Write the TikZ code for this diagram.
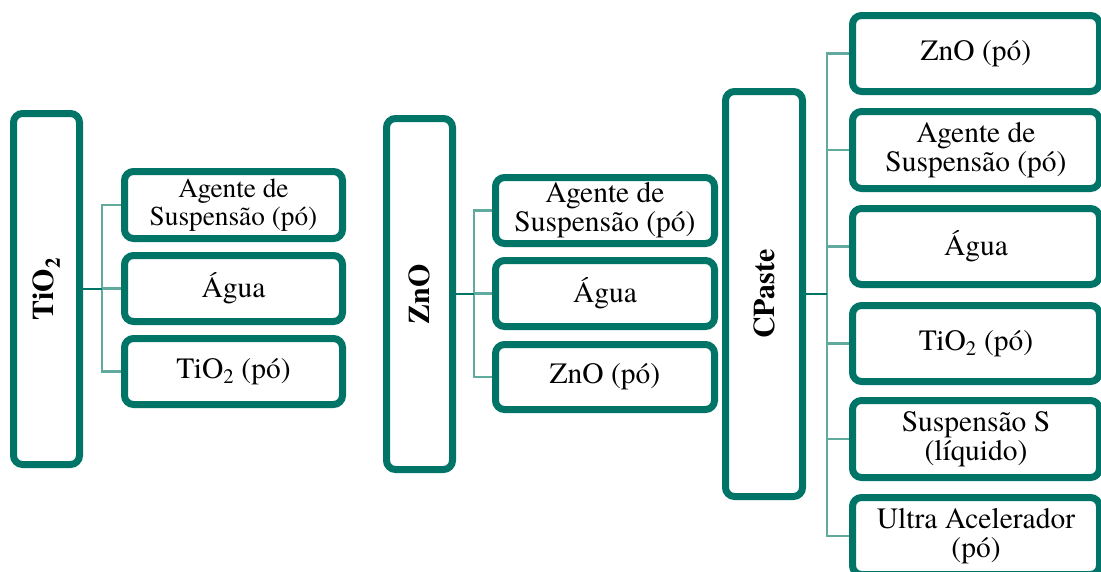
\documentclass[tikz,border=0pt]{standalone}
\usepackage{fontspec}
\newfontfamily\tnr{texgyretermes}[Extension=.otf, UprightFont=*-regular, BoldFont=*-bold]
\definecolor{teal1}{RGB}{0,116,102}
\definecolor{teal2}{RGB}{96,170,158}
\tikzset{
  box/.style={draw=teal1, line width=7pt, rounded corners=9pt, fill=white, inner sep=0pt, align=center},
  mainbox/.style={box, font=\tnr\fontsize{30}{30}\selectfont\bfseries},
  kid/.style={box, font=\tnr\fontsize{29.5}{29}\selectfont},
  kidS/.style={box, font=\tnr\fontsize{27.3}{28}\selectfont},
  darkln/.style={draw=teal1, line width=2.5pt},
  lightln/.style={draw=teal2, line width=2.5pt},
}
\begin{document}
\begin{tikzpicture}[x=1pt,y=-1pt]
\useasboundingbox (0,0) rectangle (1101,571);
\clip (0,0) rectangle (1101,571);
% TiO2 group
\node[mainbox, minimum width=66pt, minimum height=351pt] (tm) at (46.5,289) {\rotatebox{90}{TiO\textsubscript{2}}};
\node[kidS, minimum width=218pt, minimum height=67pt] (t1) at (233.5,205) {Agente de\\Suspensão (pó)};
\node[kid, minimum width=218pt, minimum height=66pt] (t2) at (233.5,288.5) {Água};
\node[kid, minimum width=218pt, minimum height=66pt] (t3) at (233.5,371.5) {TiO\textsubscript{2} (pó)};
\coordinate (tb) at (102,289);
% ZnO group
\node[mainbox, minimum width=66pt, minimum height=351pt] (zm) at (419.5,294) {\rotatebox{90}{ZnO}};
\node[kid, minimum width=219pt, minimum height=66pt] (z1) at (605,210.5) {Agente de\\Suspensão (pó)};
\node[kid, minimum width=219pt, minimum height=66pt] (z2) at (605,293.5) {Água};
\node[kid, minimum width=219pt, minimum height=65pt] (z3) at (605,377) {ZnO (pó)};
\coordinate (zb) at (474,294);
% CPaste group
\node[mainbox, minimum width=77pt, minimum height=405pt] (cm) at (764,294) {\rotatebox{90}{CPaste}};
\node[kid, minimum width=247pt, minimum height=76pt] (c1) at (976,53.5) {ZnO (pó)};
\node[kid, minimum width=247pt, minimum height=77pt] (c2) at (976,150) {Agente de\\Suspensão (pó)};
\node[kid, minimum width=247pt, minimum height=76pt] (c3) at (976,246.5) {Água};
\node[kid, minimum width=247pt, minimum height=76pt] (c4) at (976,343.5) {TiO\textsubscript{2} (pó)};
\node[kid, minimum width=247pt, minimum height=77pt] (c5) at (976,439) {Suspensão S\\(líquido)};
\node[kid, minimum width=247pt, minimum height=77pt] (c6) at (976,536) {Ultra Acelerador\\(pó)};
\coordinate (cb) at (827,294);
% connectors
\draw[lightln] (t1.west) -- (t1.west -| tb) -- (t3.west -| tb) -- (t3.west);
\draw[lightln] (t2.west) -- (t2.west -| tb);
\draw[darkln] (tm.east) -- (tb);
\draw[lightln] (z1.west) -- (z1.west -| zb) -- (z3.west -| zb) -- (z3.west);
\draw[lightln] (z2.west) -- (z2.west -| zb);
\draw[darkln] (zm.east) -- (zb);
\draw[lightln] (c1.west) -- (c1.west -| cb) -- (c6.west -| cb) -- (c6.west);
\draw[lightln] (c2.west) -- (c2.west -| cb);
\draw[lightln] (c3.west) -- (c3.west -| cb);
\draw[lightln] (c4.west) -- (c4.west -| cb);
\draw[lightln] (c5.west) -- (c5.west -| cb);
\draw[darkln] (cm.east) -- (cb);
\end{tikzpicture}
\end{document}
